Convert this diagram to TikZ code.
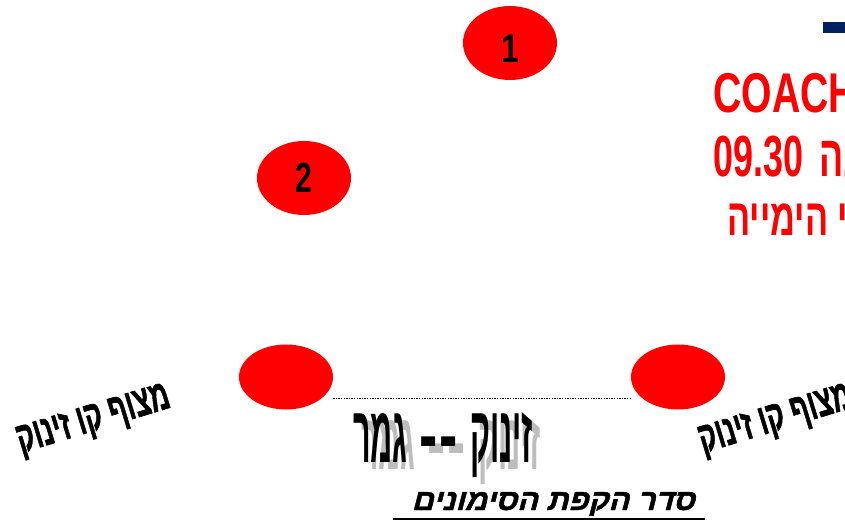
\documentclass[tikz,border=0pt]{standalone}
\usepackage{fontspec}
\setmainfont{Liberation Sans}
\newfontfamily\heb[Script=Hebrew]{Liberation Sans}
\newfontfamily\hebheavy[Script=Hebrew,FakeBold=1.5]{Liberation Sans}
\newfontfamily\hebsl[Script=Hebrew,FakeSlant=0.25,FakeBold=1.5]{Liberation Sans}
\usetikzlibrary{shapes.geometric}
\TeXXeTstate=1
\definecolor{navy}{HTML}{002060}
\definecolor{shadowgray}{HTML}{BDBDBD}
\newcommand{\widedash}{\scalebox{1.8}[1]{-}}
\newcommand{\midtext}{{\beginR גמר\endR}\hspace{0.4em}\widedash\hspace{0.06em}\widedash\hspace{0.4em}{\beginR זינוק\endR}}
\tikzset{
  redell/.style={ellipse, fill=red, draw=none, inner sep=0pt, minimum width=94pt},
  redtxt/.style={text=red, inner sep=0pt},
  dotline/.style={line width=1.2pt, dash pattern=on 1.3pt off 1.3pt},
  plain/.style={inner sep=0pt}
}
\begin{document}
\begin{tikzpicture}[x=1pt,y=-1pt]
\useasboundingbox (0,0) rectangle (845,521);
\clip (0,0) rectangle (845,521);
% blue dash
\fill[navy] (823,22) rectangle (846,33);
% ellipses
\node[redell, minimum height=74pt] (e1) at (510,43) {\raisebox{-6pt}[28pt][0pt]{\scalebox{0.8}[1]{\bfseries\fontsize{40}{40}\selectfont 1}}};
\node[redell, minimum height=74pt] (e2) at (304,178) {\scalebox{0.72}[1]{\bfseries\fontsize{42}{42}\selectfont 2}};
\node[redell, minimum height=65pt] (b1) at (286,377) {};
\node[redell, minimum height=65pt] (b2) at (678,377) {};
\draw[dotline] ([yshift=-21.5pt]b1.east) -- ([yshift=-21.5pt]b2.west);
% right texts
\node[redtxt, anchor=base west] (coach) at (713,113) {\scalebox{0.7}[1]{\bfseries\fontsize{56}{56}\selectfont COACH}};
\node[redtxt, anchor=base west] (time) at (713,177) {\scalebox{0.62}[1]{\heb\bfseries\fontsize{58}{58}\selectfont\beginR שעה\hspace{27pt}\beginL09.30\endL\endR}};
\node[redtxt, anchor=base west] (pool) at (727,236) {\scalebox{0.66}[1]{\heb\bfseries\fontsize{52}{52}\selectfont\beginR י הימייה\endR}};
% rotated labels
\node[plain, rotate=17] (lbl1) at (94,421) {\resizebox{158pt}{27pt}{\hebheavy\bfseries\beginR מצוף קו זינוק\endR}};
\node[plain, rotate=17] (lbl2) at (776,421) {\resizebox{158pt}{27pt}{\hebheavy\bfseries\beginR מצוף קו זינוק\endR}};
% middle text with shadow
\node[plain, anchor=base, text=shadowgray] (midsh) at (451,469) {\resizebox{180pt}{50pt}{\heb\bfseries\midtext}};
\node[plain, anchor=base] (mid) at (443,462) {\resizebox{180pt}{50pt}{\heb\bfseries\midtext}};
% title
\node[plain, anchor=base] (title) at (553,510) {\resizebox{283pt}{18pt}{\hebsl\bfseries\beginR סדר הקפת הסימונים\endR}};
\draw[line width=1.5pt] (title.base west |- 0,519) ++(-18,0) -- ++(312,0);
\end{tikzpicture}
\end{document}
